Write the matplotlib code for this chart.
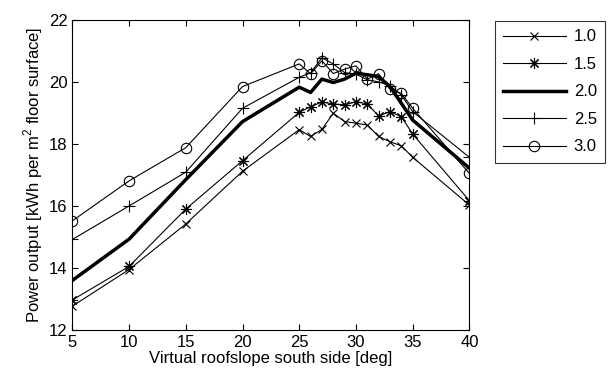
import matplotlib
matplotlib.use("Agg")
import matplotlib.pyplot as plt

plt.rcParams['font.family'] = ['Liberation Sans', 'DejaVu Sans']
plt.rcParams['mathtext.fontset'] = 'custom'
plt.rcParams['mathtext.rm'] = 'Liberation Sans'

# roof slope [deg]
slope = [5, 10, 15, 20, 25, 26, 27, 28, 29, 30, 31, 32, 33, 34, 35, 40]

# power output per series
p_10 = [12.77, 13.95, 15.42, 17.12, 18.46, 18.24, 18.47, 18.99, 18.72, 18.67,
        18.61, 18.24, 18.07, 17.94, 17.57, 16.03]
p_15 = [12.97, 14.05, 15.90, 17.46, 19.02, 19.20, 19.35, 19.29, 19.26, 19.36,
        19.29, 18.90, 19.04, 18.88, 18.32, 16.17]
p_20 = [13.60, 14.93, 16.85, 18.72, 19.83, 19.66, 20.09, 19.98, 20.09, 20.28,
        20.23, 20.17, 19.85, 19.31, 18.77, 17.22]
p_25 = [14.92, 16.00, 17.09, 19.15, 20.15, 20.29, 20.78, 20.58, 20.30, 20.25,
        20.07, 20.00, 19.88, 19.58, 19.04, 17.57]
p_30 = [15.52, 16.81, 17.88, 19.85, 20.58, 20.26, 20.68, 20.27, 20.41, 20.52,
        20.09, 20.26, 19.76, 19.63, 19.15, 17.05]

labels = ['1.0', '1.5', '2.0', '2.5', '3.0']

fig = plt.figure(figsize=(6.08, 3.82), dpi=100)
ax = fig.add_axes([0.119, 0.136, 0.653, 0.812])

ax.plot(slope, p_10, color='black', lw=0.8, marker='x', ms=6, mew=0.8, label=labels[0])
ax.plot(slope, p_15, color='black', lw=0.8, marker=(8, 2, 0), ms=8, mew=0.8, label=labels[1])
ax.plot(slope, p_20, color='black', lw=2.5, label=labels[2])
ax.plot(slope, p_25, color='black', lw=0.8, marker='+', ms=9, mew=0.8, label=labels[3])
ax.plot(slope, p_30, color='black', lw=0.8, marker='o', ms=7.5, mew=0.8,
        mfc='none', label=labels[4])

ax.set_xlim(5, 40)
ax.set_ylim(12, 22)
ax.set_xticks([5, 10, 15, 20, 25, 30, 35, 40])
ax.set_yticks([12, 14, 16, 18, 20, 22])
ax.tick_params(direction='in', top=True, right=True, labelsize=12, length=4, width=0.8)
for s in ax.spines.values():
    s.set_linewidth(0.8)

ax.set_xlabel('Virtual roofslope south side [deg]', fontsize=12, labelpad=1)
ax.set_ylabel('Power output [kWh per m$^2$ floor surface]', fontsize=12, labelpad=3)

leg = ax.legend(loc='upper left', bbox_to_anchor=(0.814, 0.945), bbox_transform=fig.transFigure,
                fontsize=12, frameon=True, fancybox=False, edgecolor='black',
                handlelength=3.75, handletextpad=0.48, labelspacing=0.75, borderpad=0.5,
                borderaxespad=0)
leg.get_frame().set_linewidth(0.8)

fig.savefig('out.png', dpi=100)
